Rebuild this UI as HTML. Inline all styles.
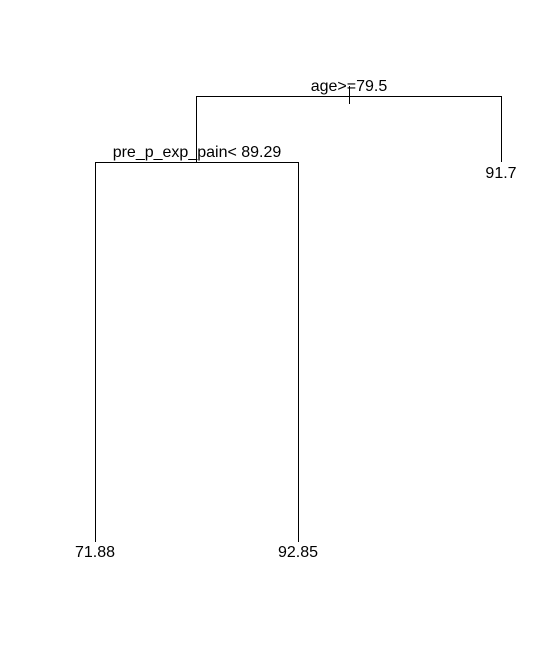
<!DOCTYPE html>
<html><head><meta charset="utf-8"><style>body{margin:0;background:#fff}svg{display:block}text{font-family:"Liberation Sans",sans-serif;font-size:16px;fill:#000;text-anchor:middle}</style></head>
<body>
<svg width="558" height="658">
<g stroke="#000" stroke-width="1" fill="none">
<path d="M196.5,162 V96.5 H501.5 V162"/>
<path d="M349.5,86 V104"/>
<path d="M95.5,542 V162.5 H298.5 V542"/>
</g>
<text x="349" y="91">age&gt;=79.5</text>
<text x="197" y="157">pre_p_exp_pain&lt; 89.29</text>
<text x="501" y="178">91.7</text>
<text x="95" y="557">71.88</text>
<text x="298" y="557">92.85</text>
</svg>
</body></html>
